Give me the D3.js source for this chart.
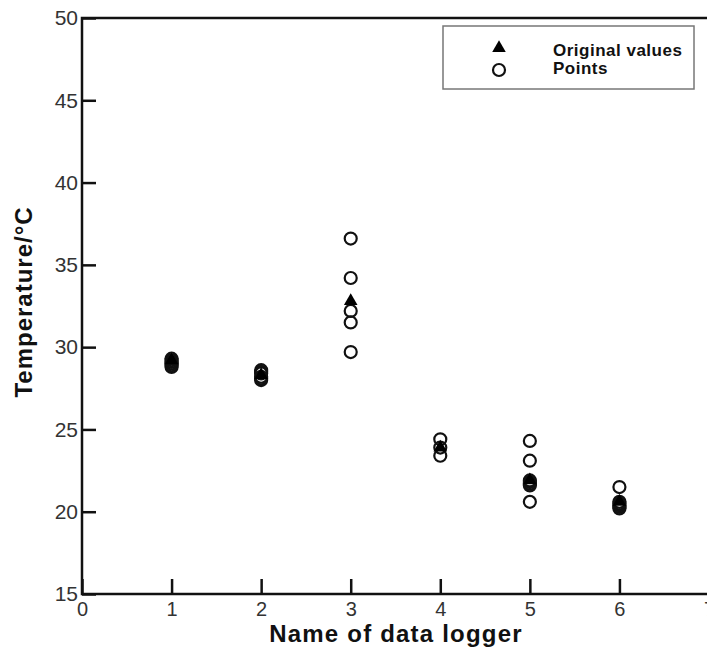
<!DOCTYPE html>
<html>
<head>
<meta charset="utf-8">
<script src="https://cdn.jsdelivr.net/npm/d3@7"></script>
<style>
  body { margin: 0; background: #fff; }
  svg { display: block; font-family: "Liberation Sans", Arial, sans-serif; }
</style>
</head>
<body>
<div id="chart"></div>
<script>
// data
const loggers = [1, 2, 3, 4, 5, 6];
const originalValues = [29.2, 28.3, 32.8, 23.9, 21.9, 20.6];
const pointValues = [
  [28.8, 28.9, 29.0, 29.1, 29.2, 29.3],
  [28.0, 28.1, 28.2, 28.4, 28.5, 28.6],
  [36.6, 34.2, 32.2, 31.5, 29.7],
  [24.4, 23.9, 23.4],
  [24.3, 23.1, 21.9, 21.8, 21.7, 21.6, 20.6],
  [21.5, 20.6, 20.5, 20.4, 20.3, 20.2]
];
const xTicks = [0, 1, 2, 3, 4, 5, 6, 7];
const yTicks = [15, 20, 25, 30, 35, 40, 45, 50];
const legendLabels = ["Original values", "Points"];

const W = 707, H = 650;
const plotLeft = 82, plotRight = 709, plotTop = 18, plotBottom = 594;

const svg = d3.select("#chart").append("svg")
  .attr("width", W)
  .attr("height", H);

const x = d3.scaleLinear().domain([0, 7]).range([plotLeft, plotRight]);
const y = d3.scaleLinear().domain([15, 50]).range([plotBottom, plotTop]);

// y axis, ticks pointing inward
const yAxis = svg.append("g")
  .attr("transform", `translate(${plotLeft},0)`)
  .call(d3.axisLeft(y).tickValues(yTicks).tickFormat(d3.format("d"))
    .tickSizeInner(-14).tickSizeOuter(0).tickPadding(4));
yAxis.select(".domain").remove();
yAxis.selectAll(".tick line").attr("stroke", "#111").attr("stroke-width", 2.5);
yAxis.selectAll(".tick text").attr("font-size", 21).attr("fill", "#333");

// x axis
const xAxis = svg.append("g")
  .attr("transform", `translate(0,${plotBottom})`)
  .call(d3.axisBottom(x).tickValues(xTicks).tickFormat(d3.format("d"))
    .tickSizeInner(-15).tickSizeOuter(0).tickPadding(8));
xAxis.select(".domain").remove();
xAxis.selectAll(".tick line").attr("stroke", "#111").attr("stroke-width", 2.5);
xAxis.selectAll(".tick text").attr("font-size", 20).attr("fill", "#333");

// frame
svg.append("rect")
  .attr("x", plotLeft).attr("y", plotTop)
  .attr("width", plotRight - plotLeft).attr("height", plotBottom - plotTop)
  .attr("fill", "none")
  .attr("stroke", "#111")
  .attr("stroke-width", 2.5);

// points (open circles)
const pts = [];
pointValues.forEach((vals, i) => vals.forEach(v => pts.push({ logger: loggers[i], v: v })));

svg.append("g").selectAll("circle")
  .data(pts)
  .enter()
  .append("circle")
  .attr("cx", d => x(d.logger))
  .attr("cy", d => y(d.v))
  .attr("r", 6)
  .attr("fill", "none")
  .attr("stroke", "#111")
  .attr("stroke-width", 2.2);

// original values (filled triangles)
const tri = d3.symbol().type(d3.symbolTriangle).size(80);
svg.append("g").selectAll("path")
  .data(originalValues)
  .enter()
  .append("path")
  .attr("d", tri)
  .attr("transform", (d, i) => `translate(${x(loggers[i])},${y(d)})`)
  .attr("fill", "#000");

// axis titles
svg.append("text")
  .attr("x", 396).attr("y", 642)
  .attr("text-anchor", "middle")
  .attr("font-size", 24)
  .attr("letter-spacing", 1.2)
  .attr("font-weight", "bold")
  .attr("fill", "#111")
  .text("Name of data logger");

svg.append("text")
  .attr("transform", "translate(32,302) rotate(-90)")
  .attr("text-anchor", "middle")
  .attr("font-size", 24)
  .attr("letter-spacing", 1)
  .attr("font-weight", "bold")
  .attr("fill", "#111")
  .text("Temperature/°C");

// legend
const legend = svg.append("g");
legend.append("rect")
  .attr("x", 443).attr("y", 26)
  .attr("width", 251).attr("height", 63)
  .attr("fill", "#fff")
  .attr("stroke", "#777")
  .attr("stroke-width", 1.5);

legend.append("path")
  .attr("d", tri)
  .attr("transform", "translate(499,48)")
  .attr("fill", "#000");
legend.append("circle")
  .attr("cx", 499).attr("cy", 70)
  .attr("r", 6)
  .attr("fill", "none")
  .attr("stroke", "#111")
  .attr("stroke-width", 2.2);

legend.selectAll("text")
  .data(legendLabels)
  .enter()
  .append("text")
  .attr("x", 553)
  .attr("y", (d, i) => 56 + i * 18)
  .attr("font-size", 17)
  .attr("letter-spacing", 0.5)
  .attr("font-weight", "bold")
  .attr("fill", "#111")
  .text(d => d);
</script>
</body>
</html>
